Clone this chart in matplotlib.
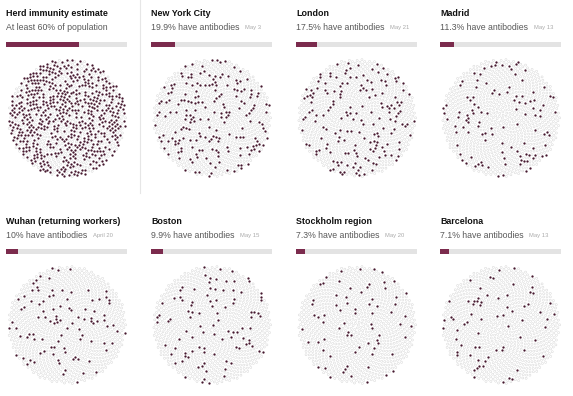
import numpy as np
import matplotlib
matplotlib.use("Agg")
import matplotlib.pyplot as plt

titles = ["Herd immunity estimate", "New York City", "London", "Madrid",
          "Wuhan (returning workers)", "Boston", "Stockholm region", "Barcelona"]
pcts = [60, 19.9, 17.5, 11.3, 10, 9.9, 7.3, 7.1]
subtitles = ["At least 60% of population", "19.9% have antibodies", "17.5% have antibodies",
             "11.3% have antibodies", "10% have antibodies", "9.9% have antibodies",
             "7.3% have antibodies", "7.1% have antibodies"]
dates = ["", "May 3", "May 21", "May 13", "April 20", "May 15", "May 20", "May 13"]

W, H = 573, 396
fig = plt.figure(figsize=(W / 100, H / 100), dpi=100)
fig.patch.set_facecolor("white")

MAROON = "#7b2b4d"
DOT = "#45182e"
BARBG = "#e3e3e3"
HOLLOW = "#d0d0d0"

col_x = [6, 151, 296, 440]
row_title_y = [13, 221]
row_sub_y = [27, 235]
row_bar_y = [44, 252]
row_circ_y = [118, 325]
BAR_W = 121
BAR_H = 5
R = 59
N = 1000

def fx(x):
    return x / W

def fy(y):
    return 1 - y / H

# dot layout (sunflower packing)
idx = np.arange(N)
rad = np.sqrt((idx + 0.5) / N)
theta = idx * np.pi * (3 - np.sqrt(5))
px = rad * np.cos(theta)
py = rad * np.sin(theta)

MASK = np.uint64(0xFFFFFFFF)

def mix(v):
    v = v.astype(np.uint64) & MASK
    v = ((v ^ (v >> np.uint64(16))) * np.uint64(0x45d9f3b)) & MASK
    v = ((v ^ (v >> np.uint64(16))) * np.uint64(0x45d9f3b)) & MASK
    v = v ^ (v >> np.uint64(16))
    return v

font = "Liberation Sans"

for k in range(8):
    r, c = divmod(k, 4)
    x0 = col_x[c]
    fig.text(fx(x0), fy(row_title_y[r]), titles[k], fontsize=6.4, fontweight="bold",
             family=font, color="#111111", va="center", ha="left")
    t = fig.text(fx(x0), fy(row_sub_y[r]), subtitles[k], fontsize=6.3,
                 family=font, color="#5a5a5a", va="center", ha="left")
    if dates[k]:
        plt.annotate(dates[k], xy=(1, 0.5), xycoords=t, xytext=(4, 0),
                     textcoords="offset points", fontsize=4.2, family=font,
                     color="#aaaaaa", va="center", ha="left")
    # bar
    bax = fig.add_axes([fx(x0), fy(row_bar_y[r] + BAR_H / 2), fx(BAR_W), BAR_H / H])
    bax.barh([0], [100], height=1, color=BARBG)
    bax.barh([0], [pcts[k]], height=1, color=MAROON)
    bax.set_xlim(0, 100)
    bax.set_ylim(-0.5, 0.5)
    bax.axis("off")
    # circle of dots
    cx = x0 + 61
    cy = row_circ_y[r]
    half = R + 3
    cax = fig.add_axes([fx(cx - half), fy(cy + half), fx(2 * half), 2 * half / H])
    cax.set_xlim(-half / R, half / R)
    cax.set_ylim(-half / R, half / R)
    cax.axis("off")
    nfill = int(round(pcts[k] / 100 * N))
    key = mix(idx + 1 + (k + 1) * 100003)
    order = np.argsort(key, kind="stable")
    filled = np.zeros(N, bool)
    filled[order[:nfill]] = True
    cax.scatter(px[~filled], py[~filled], s=2.2, facecolors="none",
                edgecolors=HOLLOW, linewidths=0.3)
    cax.scatter(px[filled], py[filled], s=2.7, color=DOT, linewidths=0)

# separator
fig.add_artist(plt.Line2D([fx(140), fx(140)], [fy(0), fy(193)], color="#e6e6e6", lw=0.8))

fig.savefig("out.png", dpi=100, facecolor="white")
